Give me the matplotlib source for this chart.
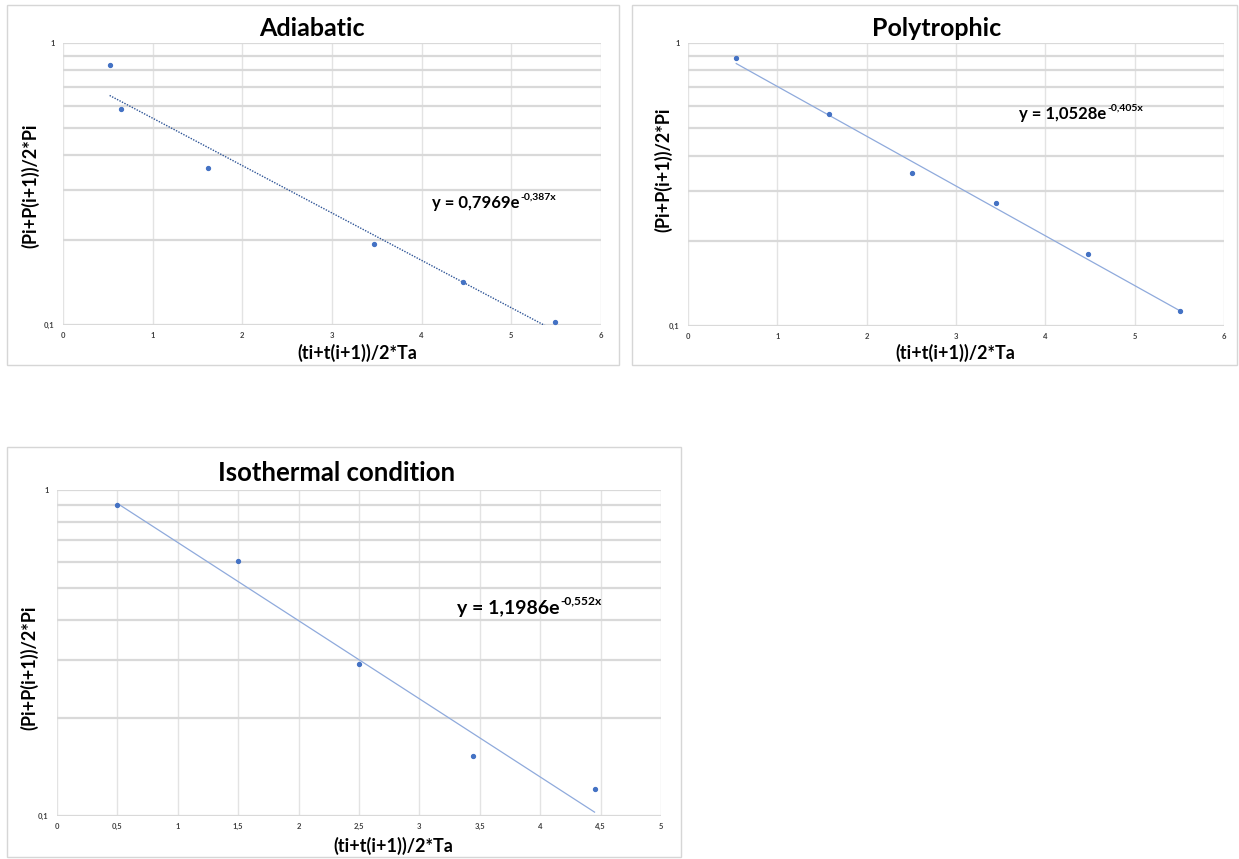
import numpy as np
import matplotlib
matplotlib.use("Agg")
import matplotlib.pyplot as plt
from matplotlib.patches import Rectangle

# ---- data -------------------------------------------------------------
adiabatic_x = [0.52, 0.65, 1.62, 3.47, 4.46, 5.49]
adiabatic_y = [0.836, 0.583, 0.360, 0.194, 0.142, 0.1025]
adiabatic_fit = (0.7969, -0.387)
adiabatic_eq = ("y = 0,7969e", "-0,387x")

poly_x = [0.54, 1.58, 2.51, 3.45, 4.48, 5.51]
poly_y = [0.885, 0.561, 0.347, 0.272, 0.180, 0.113]
poly_fit = (1.0528, -0.405)
poly_eq = ("y = 1,0528e", "-0,405x")

iso_x = [0.50, 1.50, 2.50, 3.44, 4.45]
iso_y = [0.899, 0.605, 0.292, 0.153, 0.121]
iso_fit = (1.1986, -0.552)
iso_eq = ("y = 1,1986e", "-0,552x")

ticks_six = [0, 1, 2, 3, 4, 5, 6]
ticks_six_labels = ["0", "1", "2", "3", "4", "5", "6"]
ticks_half = [0, 0.5, 1, 1.5, 2, 2.5, 3, 3.5, 4, 4.5, 5]
ticks_half_labels = ["0", "0,5", "1", "1,5", "2", "2,5", "3", "3,5", "4", "4,5", "5"]

x_label = "(ti+t(i+1))/2*Ta"
y_label = "(Pi+P(i+1))/2*Pi"

# ---- figure -----------------------------------------------------------
W, H = 1239, 859
DPI = 100
fig = plt.figure(figsize=(W / DPI, H / DPI), dpi=DPI)
fig.patch.set_facecolor("white")
FONT = "Lato"
MARK = "#4472C4"


def fx(x):
    return x / W


def fy(y):
    return 1 - y / H


def frame(x0, y0, x1, y1):
    fig.patches.append(Rectangle((fx(x0), fy(y1)), fx(x1 - x0), (y1 - y0) / H,
                                 transform=fig.transFigure, fill=False,
                                 edgecolor="#d6d6d6", linewidth=1.0))


def panel(box, xs, ys, fit, eq, ticks, tick_labels, xmax, title, title_pos,
          xlab_pos, ylab_pos, eq_pos, sizes, dotted):
    l, t, r, b = box
    ax = fig.add_axes([fx(l), fy(b), fx(r - l), (b - t) / H])
    ax.set_yscale("log")
    ax.set_xlim(0, xmax)
    ax.set_ylim(0.1, 1)
    for s in ax.spines.values():
        s.set_visible(False)
    # gridlines
    for v in ticks:
        ax.axvline(v, color="#e3e3e3", lw=1.0, zorder=0)
    for v in [0.1, 0.2, 0.3, 0.4, 0.5, 0.6, 0.7, 0.8, 0.9, 1.0]:
        ax.axhline(v, color="#d9d9d9", lw=1.6, zorder=0)
    ax.set_xticks(ticks)
    ax.set_xticklabels(tick_labels)
    ax.set_yticks([0.1, 1])
    ax.set_yticklabels(["0,1", "1"])
    ax.minorticks_off()
    ax.tick_params(length=0, labelsize=5.5, colors="#404040")
    ax.tick_params(axis="x", pad=5)
    ax.tick_params(axis="y", pad=6)
    for lab in ax.get_xticklabels() + ax.get_yticklabels():
        lab.set_fontweight("bold")
        lab.set_fontfamily(FONT)

    # exponential trendline
    a, k = fit
    xt = np.linspace(xs[0], xs[-1], 200)
    yt = a * np.exp(k * xt)
    if dotted:
        ax.plot(xt, yt, color="#2F5597", lw=1.0, ls=(0, (1, 1)), zorder=2)
    else:
        ax.plot(xt, yt, color="#8FAADC", lw=0.9, zorder=2)
    ax.plot(xs, ys, "o", color=MARK, ms=2.8, mec=MARK, zorder=3)

    tsize, lsize, esize = sizes
    fig.text(fx(title_pos[0]), fy(title_pos[1]), title, ha="center", va="center",
             fontsize=tsize, fontweight="bold", family=FONT, color="#000000")
    fig.text(fx(xlab_pos[0]), fy(xlab_pos[1]), x_label, ha="center", va="center",
             fontsize=lsize, fontweight="bold", family=FONT, color="#000000")
    fig.text(fx(ylab_pos[0]), fy(ylab_pos[1]), y_label, ha="center", va="center",
             rotation=90, fontsize=lsize, fontweight="bold", family=FONT,
             color="#000000")

    main = fig.text(fx(eq_pos[0]), fy(eq_pos[1]), eq[0], ha="left", va="baseline",
                    fontsize=esize, fontweight="bold", family=FONT, color="#000000")
    fig.canvas.draw()
    bb = main.get_window_extent()
    fig.text(bb.x1 / W + 0.001, fy(eq_pos[1]) + esize * 0.5 / 72 * DPI / H,
             eq[1], ha="left", va="baseline", fontsize=esize * 0.62,
             fontweight="bold", family=FONT, color="#000000")
    return ax


# chart borders
frame(7, 5, 619, 365)
frame(632, 5, 1237, 365)
frame(7, 447, 681, 857)

panel((63, 43, 601, 325), adiabatic_x, adiabatic_y, adiabatic_fit, adiabatic_eq,
      ticks_six, ticks_six_labels, 6, "Adiabatic", (312, 29), (357, 353),
      (30, 186), (432, 208), (18, 13, 12), True)
panel((688, 43, 1224, 326), poly_x, poly_y, poly_fit, poly_eq,
      ticks_six, ticks_six_labels, 6, "Polytrophic", (937, 29), (955, 353),
      (663, 170), (1019, 119), (18, 13, 12), False)
panel((57, 490, 661, 816), iso_x, iso_y, iso_fit, iso_eq,
      ticks_half, ticks_half_labels, 5, "Isothermal condition", (337, 473),
      (393, 846), (29, 668), (457, 614), (18.5, 13, 14), False)

fig.savefig("out.png", dpi=DPI, facecolor="white")
